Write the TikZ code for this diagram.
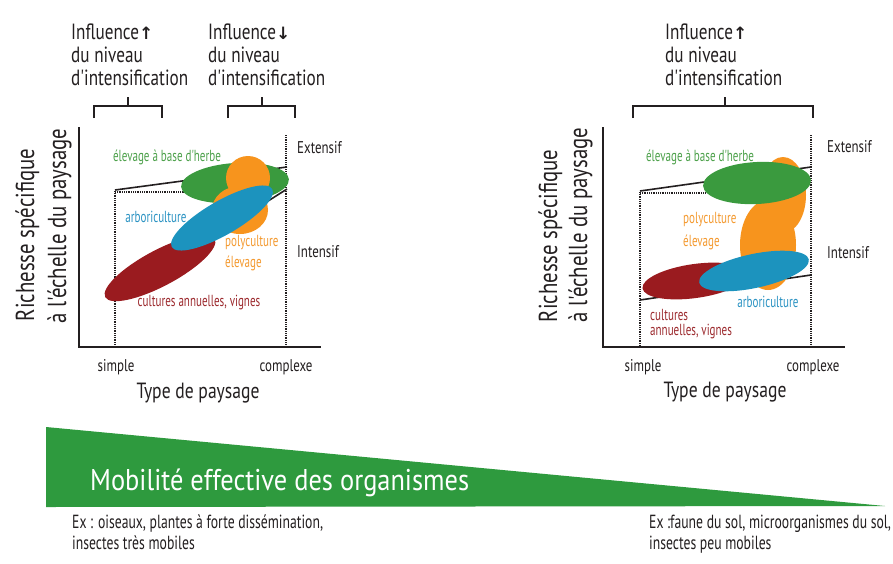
\documentclass[tikz,border=0pt]{standalone}
\usepackage{fontspec}
\setmainfont{PT Sans}
\newfontfamily\fH[FakeStretch=0.78]{PT Sans}
\newfontfamily\fY[FakeStretch=0.8]{PT Sans}
\newfontfamily\fL[FakeStretch=0.69]{PT Sans}
\newfontfamily\fT[FakeStretch=0.76]{PT Sans}
\newfontfamily\fE[FakeStretch=0.72]{PT Sans}
\newfontfamily\fM[FakeStretch=0.88]{PT Sans}
\newfontfamily\arr{DejaVu Sans}
\definecolor{cgreen}{HTML}{3A9A3E}
\definecolor{corange}{HTML}{F7941D}
\definecolor{cblue}{HTML}{1C93BE}
\definecolor{cred}{HTML}{9A1B1F}
\definecolor{tgreen}{HTML}{4DA14B}
\definecolor{tblue}{HTML}{2B93C3}
\definecolor{torange}{HTML}{F49A30}
\definecolor{tred}{HTML}{9C2A2E}
\definecolor{tri}{HTML}{2E9A3E}
\definecolor{ink}{HTML}{231F20}
\begin{document}
\begin{tikzpicture}[x=1pt,y=-1pt,
  axisl/.style={ink,line width=2.2pt},
  dotl/.style={ink,line width=1.4pt,dash pattern=on 0.9pt off 0.9pt},
  soll/.style={ink,line width=1.6pt},
  brk/.style={ink,line width=1.8pt},
  head/.style={inner sep=0,anchor=base west,text=ink,font=\fH\fontsize{22}{26}\selectfont},
  ylab/.style={inner sep=0,anchor=base,rotate=90,text=ink,font=\fY\fontsize{26}{30}\selectfont},
  xlab/.style={inner sep=0,text=ink,font=\fY\fontsize{22}{26}\selectfont},
  tick/.style={inner sep=0,text=ink,font=\fT\fontsize{17}{20}\selectfont},
  elab/.style={inner sep=0,font=\fL\fontsize{16}{19}\selectfont},
  exl/.style={inner sep=0,anchor=base west,text=ink,font=\fE\fontsize{19}{22}\selectfont},
]
\useasboundingbox (0,0) rectangle (893,563);
\fill[white] (0,0) rectangle (893,563);

% ---------------- headings ----------------
\node[head] (h1a) at (71,39) {Influence{\arr\fontsize{17}{20}\selectfont\bfseries ↑}};
\node[head] (h1b) at (71,62) {du niveau};
\node[head] (h1c) at (71,85) {d'intensification};
\node[head] (h2a) at (208,39) {Influence{\arr\fontsize{17}{20}\selectfont\bfseries ↓}};
\node[head] (h2b) at (208,62) {du niveau};
\node[head] (h2c) at (208,85) {d'intensification};
\node[head] (h3a) at (665,39) {Influence{\arr\fontsize{17}{20}\selectfont\bfseries ↑}};
\node[head] (h3b) at (665,62) {du niveau};
\node[head] (h3c) at (665,85) {d'intensification};

% brackets
\draw[brk] (94,118) -- (94,106) -- (162,106) -- (162,118) (128,106) -- (128,97);
\draw[brk] (228,118) -- (228,106) -- (295,106) -- (295,118) (262,106) -- (262,97);
\draw[brk] (633,118) -- (633,106) -- (813,106) -- (813,118) (725,106) -- (725,97);

% ================= LEFT PLOT =================
\draw[dotl] (115,191) -- (115,347);
\draw[dotl] (286,135) -- (286,347);
\draw[dotl] (115,192) -- (185,192);
\draw[soll] (115,190) -- (287,167);
\draw[soll] (115,298) -- (287,189);
\draw[axisl] (79,127) -- (79,347) -- (321,347);

\fill[cgreen, rotate around={4:(235,183)}] (235,183) ellipse [x radius=54, y radius=20];
\fill[corange] (248,178) circle [radius=22];
\fill[corange] (240,210) ellipse [x radius=28, y radius=24];
\fill[cred, rotate around={28:(160,268)}] (160,268) ellipse [x radius=62, y radius=18];
\fill[cblue, rotate around={30:(222,218)}] (222,218) ellipse [x radius=58, y radius=17];

\node[elab,text=tgreen] (lg) at (167,157) {élevage à base d'herbe};
\node[elab,text=tblue] (lb) at (156,217) {arboriculture};
\node[elab,text=torange,anchor=west] (lo1) at (225,243) {polyculture};
\node[elab,text=torange,anchor=west] (lo2) at (225,263) {élevage};
\node[elab,text=tred] (lr) at (199,303) {cultures annuelles, vignes};

\node[tick,anchor=west] (lext) at (297,148) {Extensif};
\node[tick,anchor=west] (lint) at (297,252) {Intensif};
\node[tick] (lsim) at (116,367) {simple};
\node[tick] (lcom) at (286,367) {complexe};
\node[xlab] (ltyp) at (198,393) {Type de paysage};
\node[ylab] (ly1) at (34,235) {Richesse spécifique};
\node[ylab] (ly2) at (66,226) {à l'échelle du paysage};

% ================= RIGHT PLOT =================
\draw[dotl] (640,192) -- (640,347);
\draw[dotl] (811,135) -- (811,347);
\draw[dotl] (640,193) -- (705,193);
\draw[soll] (640,191) -- (811,167);
\draw[soll] (640,300) -- (811,275);
\draw[axisl] (603,127) -- (603,347) -- (845,347);

\fill[corange] (783,195) ellipse [x radius=23, y radius=38];
\fill[corange] (768,245) ellipse [x radius=28, y radius=45];
\fill[cgreen, rotate around={3:(757,183)}] (757,183) ellipse [x radius=54, y radius=21];
\fill[cred, rotate around={8:(695,281)}] (695,281) ellipse [x radius=53, y radius=17];
\fill[cblue, rotate around={12:(754,271)}] (754,271) ellipse [x radius=56, y radius=17];

\node[elab,text=tgreen] (rg) at (700,157) {élevage à base d'herbe};
\node[elab,text=torange,anchor=west] (ro1) at (683,220) {polyculture};
\node[elab,text=torange,anchor=west] (ro2) at (683,242) {élevage};
\node[elab,text=tblue] (rb) at (768,302) {arboriculture};
\node[elab,text=tred,anchor=west] (rr1) at (650,315) {cultures};
\node[elab,text=tred,anchor=west] (rr2) at (650,332) {annuelles, vignes};

\node[tick,anchor=west] (rext) at (827,147) {Extensif};
\node[tick,anchor=west] (rint) at (827,253) {Intensif};
\node[tick] (rsim) at (643,367) {simple};
\node[tick] (rcom) at (813,367) {complexe};
\node[xlab] (rtyp) at (725,392) {Type de paysage};
\node[ylab] (ry1) at (557,236) {Richesse spécifique};
\node[ylab] (ry2) at (587,225) {à l'échelle du paysage};

% ================= MOBILITY WEDGE =================
\fill[tri] (46,427) -- (885,506) -- (46,507) -- cycle;
\node[inner sep=0,anchor=west,text=white,font=\fM\fontsize{30}{34}\selectfont] (mob) at (90,483) {Mobilité effective des organismes};
\node[exl] (ex1a) at (72,528) {Ex : oiseaux, plantes à forte dissémination,};
\node[exl] (ex1b) at (72,549) {insectes très mobiles};
\node[exl] (ex2a) at (649,528) {Ex :faune du sol, microorganismes du sol,};
\node[exl] (ex2b) at (649,549) {insectes peu mobiles};
\end{tikzpicture}
\end{document}
